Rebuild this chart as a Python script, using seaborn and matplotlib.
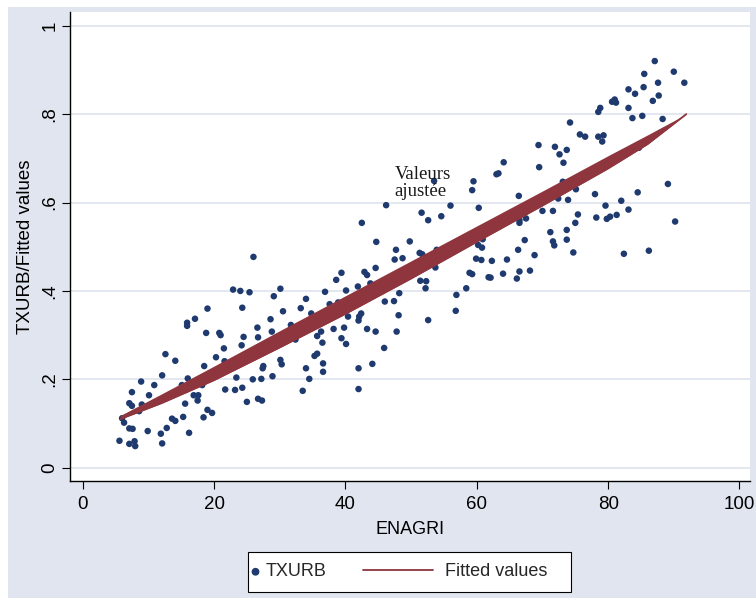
import matplotlib
matplotlib.use("Agg")
import matplotlib.pyplot as plt
import seaborn as sns
from matplotlib.patches import Rectangle

# ---------------- data ----------------
enagri_a = [26.0, 22.9, 24.0, 25.4, 30.1, 29.1, 34.0, 33.2, 30.5, 24.3,
            19.0, 17.1, 15.9, 15.9, 28.6, 34.8, 18.8, 20.8, 21.0, 26.6,
            28.8, 31.7, 24.5, 26.7, 21.5, 24.2, 32.4, 35.7, 12.6, 14.1,
            20.3, 18.5, 21.6, 30.1, 30.3, 35.3, 27.5, 27.4, 34.0, 12.1,
            8.9, 10.9, 16.0, 23.4, 25.9, 27.2, 28.9, 34.5, 33.5, 7.5,
            10.1, 15.1, 15.7, 18.6, 18.2, 21.7, 23.2, 24.3, 16.9, 17.6,
            17.5, 15.6, 25.0, 26.7, 27.3, 7.1, 7.5, 9.0, 8.6, 19.0,
            19.7, 18.4, 15.3, 13.6, 14.1, 12.8, 11.9, 9.9, 16.2, 6.0,
            6.3, 7.1, 7.6, 5.6, 7.1, 7.9, 8.0, 12.1, 35.7]
txurb_a = [0.477, 0.403, 0.400, 0.397, 0.405, 0.388, 0.382, 0.361, 0.354, 0.362,
           0.360, 0.337, 0.328, 0.321, 0.336, 0.349, 0.305, 0.305, 0.300, 0.317,
           0.308, 0.323, 0.296, 0.295, 0.270, 0.277, 0.290, 0.298, 0.257, 0.242,
           0.250, 0.230, 0.241, 0.244, 0.234, 0.253, 0.230, 0.225, 0.225, 0.209,
           0.195, 0.187, 0.202, 0.204, 0.200, 0.201, 0.207, 0.201, 0.174, 0.171,
           0.164, 0.187, 0.176, 0.195, 0.187, 0.177, 0.176, 0.181, 0.164, 0.164,
           0.152, 0.145, 0.149, 0.156, 0.152, 0.146, 0.140, 0.143, 0.128, 0.131,
           0.124, 0.114, 0.115, 0.111, 0.106, 0.090, 0.077, 0.083, 0.079, 0.112,
           0.102, 0.089, 0.088, 0.061, 0.054, 0.060, 0.049, 0.055, 0.258]

enagri_b = [63.3, 63.0, 59.5, 53.5, 59.3, 46.2, 56.0, 60.3, 51.6, 52.6,
            54.6, 42.5, 44.7, 49.8, 47.7, 48.7, 47.5, 51.3, 51.7, 53.9,
            59.9, 60.7, 60.2, 60.8, 60.9, 62.3, 44.6, 42.9, 43.3, 39.4,
            38.6, 41.9, 43.8, 40.1, 36.9, 53.7, 51.4, 52.3, 52.2, 58.9,
            59.3, 61.8, 62.1, 58.4, 56.9, 56.8, 52.6, 48.2, 47.4, 46.0,
            48.1, 47.8, 45.9, 44.1, 42.0, 42.0, 44.6, 43.3, 42.4, 42.1,
            42.0, 40.4, 40.1, 39.4, 39.8, 38.2, 37.6, 38.9, 36.3, 36.5,
            36.6, 36.6]
txurb_b = [0.666, 0.664, 0.648, 0.649, 0.628, 0.594, 0.593, 0.588, 0.577, 0.560,
           0.569, 0.554, 0.511, 0.512, 0.493, 0.474, 0.471, 0.486, 0.483, 0.493,
           0.473, 0.470, 0.504, 0.498, 0.517, 0.468, 0.452, 0.443, 0.436, 0.441,
           0.425, 0.410, 0.417, 0.401, 0.398, 0.453, 0.423, 0.422, 0.406, 0.441,
           0.438, 0.431, 0.430, 0.406, 0.391, 0.355, 0.334, 0.395, 0.377, 0.376,
           0.345, 0.308, 0.271, 0.235, 0.225, 0.178, 0.308, 0.314, 0.349, 0.342,
           0.333, 0.342, 0.280, 0.293, 0.317, 0.314, 0.370, 0.374, 0.308, 0.283,
           0.236, 0.217]

enagri_c = [87.1, 90.0, 91.6, 85.5, 87.6, 83.1, 84.1, 85.4, 87.7, 86.8,
            80.6, 81.0, 81.2, 78.8, 78.5, 83.1, 83.7, 85.2, 88.3, 74.2,
            75.7, 76.5, 78.5, 79.3, 79.1, 69.4, 71.9, 73.7, 72.6, 73.2,
            69.5, 64.1, 84.7, 89.1, 84.5, 73.1, 75.1, 78.0, 66.4, 72.4,
            73.9, 79.6, 82.0, 90.2, 70.0, 71.6, 75.4, 78.2, 79.8, 80.3,
            81.3, 83.1, 67.5, 66.5, 66.5, 75.0, 73.7, 71.2, 67.3, 71.6,
            71.8, 73.7, 66.3, 74.7, 82.4, 86.2, 68.8, 64.6, 68.1, 66.5,
            64.0, 66.1]
txurb_c = [0.920, 0.896, 0.871, 0.891, 0.871, 0.856, 0.846, 0.861, 0.842, 0.830,
           0.828, 0.833, 0.826, 0.814, 0.805, 0.814, 0.791, 0.796, 0.789, 0.781,
           0.754, 0.749, 0.749, 0.752, 0.738, 0.730, 0.726, 0.719, 0.709, 0.690,
           0.680, 0.691, 0.724, 0.642, 0.623, 0.647, 0.630, 0.619, 0.615, 0.609,
           0.606, 0.593, 0.604, 0.557, 0.581, 0.581, 0.573, 0.566, 0.563, 0.568,
           0.572, 0.584, 0.564, 0.554, 0.560, 0.554, 0.538, 0.533, 0.515, 0.512,
           0.503, 0.516, 0.493, 0.487, 0.484, 0.491, 0.481, 0.471, 0.446, 0.444,
           0.439, 0.428]

# fitted values (drawn as a thin lens-shaped band in the reference)
fit_x = [5.7, 12, 20, 30, 40, 50, 60, 70, 80, 86, 91.9]
fit_hi = [0.118, 0.167, 0.230, 0.310, 0.389, 0.468, 0.547, 0.626, 0.706, 0.753, 0.800]
fit_lo = [0.110, 0.146, 0.198, 0.272, 0.348, 0.428, 0.511, 0.593, 0.677, 0.732, 0.800]

x_ticks = [0, 20, 40, 60, 80, 100]
x_tick_labels = ["0", "20", "40", "60", "80", "100"]
y_ticks = [0, 0.2, 0.4, 0.6, 0.8, 1.0]
y_tick_labels = ["0", ".2", ".4", ".6", ".8", "1"]

enagri = enagri_a + enagri_b + enagri_c
txurb = txurb_a + txurb_b + txurb_c

# ---------------- style ----------------
BG = "#e0e5ef"
NAVY = "#1f3a6e"
MAROON = "#8f353d"

sns.set_theme(style="white")
plt.rcParams["font.family"] = ["Liberation Sans", "DejaVu Sans"]

fig = plt.figure(figsize=(7.56, 5.98), dpi=100, facecolor="white")
fig.add_artist(Rectangle((8 / 756, 0), 1 - 8 / 756, 1 - 7 / 598,
                         transform=fig.transFigure, facecolor=BG,
                         edgecolor="none", zorder=-10))
ax = fig.add_axes([70 / 756, 1 - 481 / 598, 680 / 756, 469 / 598])
ax.set_facecolor("white")

sns.scatterplot(x=enagri, y=txurb, s=22, color=NAVY, edgecolor="none",
                linewidth=0, label="TXURB", ax=ax, zorder=2)
ax.fill_between(fit_x, fit_lo, fit_hi, color=MAROON, linewidth=0, zorder=3)
sns.lineplot(x=fit_x, y=fit_lo, color=MAROON, linewidth=1.3,
             label="Fitted values", ax=ax, zorder=3)

ax.text(47.5, 0.644, "Valeurs\najustée", family=["Liberation Serif", "DejaVu Serif"],
        fontsize=13.5, ha="left", va="center", linespacing=1.0,
        color="#1a1a1a", zorder=4)

ax.set_xlim(-1.93, 101.6)
ax.set_ylim(-0.030, 1.031)
ax.set_xticks(x_ticks, x_tick_labels)
ax.set_yticks(y_ticks, y_tick_labels)
ax.yaxis.grid(True, color=BG, linewidth=1.3)
ax.xaxis.grid(False)
ax.set_axisbelow(True)

for side in ["top", "right"]:
    ax.spines[side].set_visible(False)
for side in ["left", "bottom"]:
    ax.spines[side].set_color("black")
    ax.spines[side].set_linewidth(1.0)

ax.tick_params(axis="both", direction="out", length=6, width=0.8,
               color="black", labelsize=13.5, labelcolor="black",
               bottom=True, left=True)
ax.tick_params(axis="x", pad=4.5)
ax.tick_params(axis="y", pad=2.5, labelrotation=90)
for lab in ax.get_yticklabels():
    lab.set_verticalalignment("center")

ax.set_xlabel("ENAGRI", fontsize=13, color="black")
ax.xaxis.set_label_coords(0.5, (481 - 529) / 469)
ax.xaxis.label.set_verticalalignment("center")
ax.set_ylabel("TXURB/Fitted values", fontsize=13.5, color="black")
ax.yaxis.set_label_coords((25 - 70) / 680, 0.5)
ax.yaxis.label.set_verticalalignment("center")

# legend (below the plot, framed box)
handles, labels = ax.get_legend_handles_labels()
if ax.get_legend() is not None:
    ax.get_legend().remove()
hmap = dict(zip(labels, handles))
fig.add_artist(Rectangle((248 / 756, 1 - 592 / 598), 323 / 756, 40 / 598,
                         transform=fig.transFigure, facecolor="white",
                         edgecolor="black", linewidth=0.8, zorder=1))
fig.legend([hmap["TXURB"]], ["TXURB"], loc="center left",
           bbox_to_anchor=(251 / 756, 1 - 572 / 598), frameon=False,
           handlelength=0.5, handletextpad=0.3, borderpad=0, borderaxespad=0,
           fontsize=13, markerscale=1.2)
fig.legend([hmap["Fitted values"]], ["Fitted values"], loc="center left",
           bbox_to_anchor=(363 / 756, 1 - 572 / 598), frameon=False,
           handlelength=3.86, handletextpad=0.67, borderpad=0, borderaxespad=0,
           fontsize=13)

fig.savefig("out.png", dpi=100, facecolor=fig.get_facecolor())
